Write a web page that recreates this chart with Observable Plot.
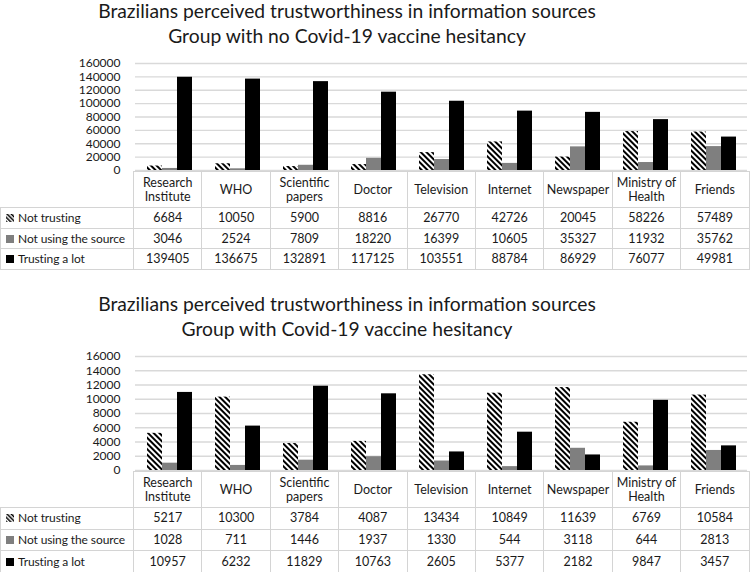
<!DOCTYPE html>
<html>
<head>
<meta charset="utf-8">
<script src="https://cdn.jsdelivr.net/npm/d3@7"></script>
<script src="https://cdn.jsdelivr.net/npm/@observablehq/plot@0.6"></script>
<style>
  html, body { margin: 0; padding: 0; background: #fff; }
  #root { position: relative; width: 750px; height: 572px; font-family: Lato, "Open Sans", sans-serif; color: #1a1a1a; overflow: hidden; }
  .title { position: absolute; left: 0; width: 694px; text-align: center; font-size: 19.3px; line-height: 25px; color: #1a1a1a; }
  table.data { position: absolute; left: 0; border-collapse: collapse; table-layout: fixed; width: 749px; }
  table.data td { border: 1px solid #d4d4d4; text-align: center; padding: 0; font-size: 12.5px; line-height: 14px; white-space: pre-line; overflow: hidden; }
  table.data td.blank { border-top: none; border-left: none; }
  table.data td.lab { text-align: left; padding-left: 5px; white-space: nowrap; font-size: 12px; letter-spacing: -0.1px; }
  .key { display: inline-block; width: 8px; height: 8px; margin-right: 4px; vertical-align: 0px; }
</style>
</head>
<body>
<div id="root"></div>
<script>
// ---- data ----
const categories = ["Research Institute", "WHO", "Scientific papers", "Doctor", "Television", "Internet", "Newspaper", "Ministry of Health", "Friends"];
const headerLabels = ["Research\nInstitute", "WHO", "Scientific\npapers", "Doctor", "Television", "Internet", "Newspaper", "Ministry of\nHealth", "Friends"];
const seriesNames = ["Not trusting", "Not using the source", "Trusting a lot"];

const title1 = ["Brazilians perceived trustworthiness in information sources", "Group with no Covid-19 vaccine hesitancy"];
const title2 = ["Brazilians perceived trustworthiness in information sources", "Group with Covid-19 vaccine hesitancy"];

const noHesNotTrusting = [6684, 10050, 5900, 8816, 26770, 42726, 20045, 58226, 57489];
const noHesNotUsing    = [3046, 2524, 7809, 18220, 16399, 10605, 35327, 11932, 35762];
const noHesTrusting    = [139405, 136675, 132891, 117125, 103551, 88784, 86929, 76077, 49981];

const hesNotTrusting = [5217, 10300, 3784, 4087, 13434, 10849, 11639, 6769, 10584];
const hesNotUsing    = [1028, 711, 1446, 1937, 1330, 544, 3118, 644, 2813];
const hesTrusting    = [10957, 6232, 11829, 10763, 2605, 5377, 2182, 9847, 3457];

const yTicks1 = [0, 20000, 40000, 60000, 80000, 100000, 120000, 140000, 160000];
const yTicks2 = [0, 2000, 4000, 6000, 8000, 10000, 12000, 14000, 16000];

// ---- helpers ----
const root = document.getElementById("root");

function addPattern(svg, id) {
  const p = d3.select(svg).insert("defs", ":first-child")
    .append("pattern")
    .attr("id", id)
    .attr("patternUnits", "userSpaceOnUse")
    .attr("width", 4).attr("height", 4)
    .attr("patternTransform", "rotate(-45)");
  p.append("rect").attr("width", 4).attr("height", 4).attr("fill", "#fff");
  p.append("rect").attr("width", 2).attr("height", 4).attr("fill", "#000");
}

function buildRows(seriesArrays) {
  const rows = [];
  seriesArrays.forEach((arr, s) => {
    arr.forEach((v, i) => rows.push({category: categories[i], series: seriesNames[s], value: v}));
  });
  return rows;
}

function addTitle(lines, top) {
  const div = document.createElement("div");
  div.className = "title";
  div.style.top = top + "px";
  div.innerHTML = lines.join("<br>");
  root.appendChild(div);
}

function addPlot(seriesArrays, yTicks, top, height, patId) {
  const rows = buildRows(seriesArrays);
  const fills = [`url(#${patId})`, "#7f7f7f", "#000000"];
  const marks = [
    Plot.gridY(yTicks, {stroke: "#d9d9d9", strokeOpacity: 1, strokeWidth: 1.3})
  ];
  seriesNames.forEach((s, k) => {
    marks.push(Plot.barY(rows.filter(d => d.series === s), {
      fx: "category", x: "series", y: "value", fill: fills[k], inset: 0
    }));
  });
  marks.push(Plot.axisY(yTicks, {tickSize: 0, tickPadding: 15, label: null, tickFormat: d => String(d), fontSize: 12, fill: "#1a1a1a"}));
  const svg = Plot.plot({
    width: 750,
    height: height,
    marginLeft: 133,
    marginRight: 1,
    marginTop: 11,
    marginBottom: 1,
    style: {fontFamily: "Lato, sans-serif", fontSize: "12px", color: "#1a1a1a", background: "transparent", overflow: "visible"},
    fx: {domain: categories, padding: 0, axis: null},
    x: {domain: seriesNames, paddingInner: 0, paddingOuter: 0.72, axis: null},
    y: {domain: [yTicks[0], yTicks[yTicks.length - 1]], axis: null, label: null},
    marks
  });
  addPattern(svg, patId);
  svg.style.position = "absolute";
  svg.style.top = top + "px";
  svg.style.left = "0px";
  root.appendChild(svg);
}

function keyHTML(k, patId) {
  if (k === 0) {
    return `<svg class="key" width="8" height="8" viewBox="0 0 8 8"><defs><pattern id="${patId}k" patternUnits="userSpaceOnUse" width="3" height="3" patternTransform="rotate(-45)"><rect width="3" height="3" fill="#fff"/><rect width="1.5" height="3" fill="#000"/></pattern></defs><rect width="8" height="8" fill="url(#${patId}k)"/></svg>`;
  }
  const c = k === 1 ? "#7f7f7f" : "#000";
  return `<span class="key" style="background:${c}"></span>`;
}

function addTable(seriesArrays, top, headH, rowH, patId) {
  const t = document.createElement("table");
  t.className = "data";
  t.style.top = top + "px";
  let html = `<colgroup><col style="width:133px">` + categories.map(() => `<col style="width:68.4px">`).join("") + `</colgroup>`;
  html += `<tr style="height:${headH}px"><td class="blank"></td>` + headerLabels.map(l => `<td>${l}</td>`).join("") + `</tr>`;
  seriesArrays.forEach((arr, k) => {
    html += `<tr style="height:${rowH}px"><td class="lab">${keyHTML(k, patId)}${seriesNames[k]}</td>` + arr.map(v => `<td>${v}</td>`).join("") + `</tr>`;
  });
  t.innerHTML = html;
  root.appendChild(t);
}

// ---- panel 1 ----
addTitle(title1, -2);
addPlot([noHesNotTrusting, noHesNotUsing, noHesTrusting], yTicks1, 52, 119, "hatch1");
addTable([noHesNotTrusting, noHesNotUsing, noHesTrusting], 171, 36, 20.7, "hatch1");

// ---- panel 2 ----
addTitle(title2, 291);
addPlot([hesNotTrusting, hesNotUsing, hesTrusting], yTicks2, 345, 126, "hatch2");
addTable([hesNotTrusting, hesNotUsing, hesTrusting], 471, 36, 21.7, "hatch2");
</script>
</body>
</html>
